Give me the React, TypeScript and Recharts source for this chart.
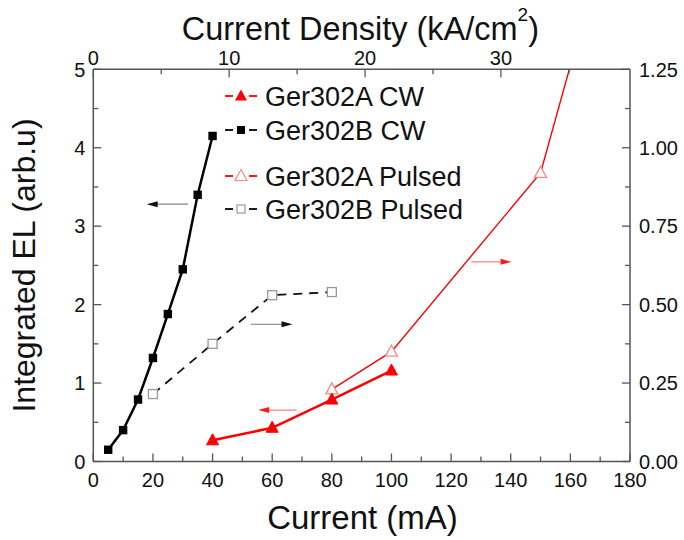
import React from 'react'
import { LineChart, Line, XAxis, YAxis, ReferenceLine } from 'recharts'

const FONT = 'Arial, "Liberation Sans", sans-serif'
const AXIS_COLOR = '#555'

// Ger302B CW - left axis
const currentB_CW = [5, 10, 15, 20, 25, 30, 35, 40]
const elB_CW = [0.15, 0.4, 0.79, 1.32, 1.88, 2.45, 3.4, 4.15]
// Ger302A CW - left axis
const currentA_CW = [40, 60, 80, 100]
const elA_CW = [0.27, 0.43, 0.79, 1.16]
// Ger302A Pulsed - right axis (last point runs off the top)
const currentA_P = [80, 100, 150, 200]
const elA_P = [0.23, 0.35, 0.92, 2.63]
// Ger302B Pulsed - right axis
const currentB_P = [20, 40, 60, 80]
const elB_P = [0.215, 0.375, 0.53, 0.54]

const currentTicks = [0, 10, 20, 30, 40, 50, 60, 70, 80, 90, 100, 110, 120, 130, 140, 150, 160, 170, 180]
const densityTicks = [0, 5, 10, 15, 20, 25, 30, 35]
const leftTicks = [0, 0.5, 1, 1.5, 2, 2.5, 3, 3.5, 4, 4.5, 5]
const rightTicks = [0, 0.125, 0.25, 0.375, 0.5, 0.625, 0.75, 0.875, 1, 1.125, 1.25]

// arrows pointing to the axis each curve belongs to: [fromX, toX, y] on left axis
const arrows = [
  { from: 31.8, to: 17.9, y: 3.28, line: '#888', head: '#111' },
  { from: 52.8, to: 66.8, y: 1.75, line: '#777', head: '#111' },
  { from: 68.2, to: 55.3, y: 0.656, line: '#ff8080', head: '#ff1a1a' },
  { from: 126.8, to: 140.3, y: 2.545, line: '#ff8080', head: '#ff1a1a' },
]

const zip = (xs: number[], ys: number[]) => xs.map((x, i) => ({ x, y: ys[i] }))

const dataB_CW = zip(currentB_CW, elB_CW)
const dataA_CW = zip(currentA_CW, elA_CW)
const dataA_P = zip(currentA_P, elA_P)
const dataB_P = zip(currentB_P, elB_P)

const isMult = (v: number, step: number) => Math.abs(v / step - Math.round(v / step)) < 1e-6

function makeTick(side: 'bottom' | 'top' | 'left' | 'right', step: number, fmt: (v: number) => string) {
  return (props: any) => {
    const { x, y, payload } = props
    const v = payload.value
    const major = isMult(v, step)
    const len = major ? 8 : 5
    let line = null
    let label = null
    const common = { fill: '#111', fontSize: 20, fontFamily: FONT }
    if (side === 'bottom') {
      line = <line x1={x} y1={y} x2={x} y2={y - len} stroke={AXIS_COLOR} strokeWidth={1.3} />
      if (major) label = <text x={x} y={y + 25.5} textAnchor="middle" {...common}>{fmt(v)}</text>
    } else if (side === 'top') {
      line = <line x1={x} y1={y} x2={x} y2={y + len} stroke={AXIS_COLOR} strokeWidth={1.3} />
      if (major) label = <text x={x} y={y - 4} textAnchor="middle" {...common}>{fmt(v)}</text>
    } else if (side === 'left') {
      line = <line x1={x} y1={y} x2={x + len} y2={y} stroke={AXIS_COLOR} strokeWidth={1.3} />
      if (major) label = <text x={x - 8} y={y} dy="0.36em" textAnchor="end" {...common}>{fmt(v)}</text>
    } else {
      line = <line x1={x} y1={y} x2={x - len} y2={y} stroke={AXIS_COLOR} strokeWidth={1.3} />
      if (major) label = <text x={x + 9} y={y} dy="0.36em" textAnchor="start" {...common}>{fmt(v)}</text>
    }
    return (
      <g>
        {line}
        {label}
      </g>
    )
  }
}

function triangle(cx: number, cy: number) {
  return `${cx},${cy - 6.5} ${cx - 6},${cy + 4.5} ${cx + 6},${cy + 4.5}`
}

const FilledTriangle = (props: any) => {
  const { cx, cy, index } = props
  if (cx == null || cy == null) return <g key={index} />
  return <polygon key={index} points={triangle(cx, cy)} fill="#ff0000" stroke="#ff0000" strokeWidth={1} />
}

const OpenTriangle = (props: any) => {
  const { cx, cy, index } = props
  if (cx == null || cy == null) return <g key={index} />
  return <polygon key={index} points={triangle(cx, cy)} fill="#fff" stroke="#f28b8b" strokeWidth={1.3} />
}

const FilledSquare = (props: any) => {
  const { cx, cy, index } = props
  if (cx == null || cy == null) return <g key={index} />
  return <rect key={index} x={cx - 4.2} y={cy - 4.2} width={8.4} height={8.4} fill="#000" />
}

const OpenSquare = (props: any) => {
  const { cx, cy, index } = props
  if (cx == null || cy == null) return <g key={index} />
  return <rect key={index} x={cx - 4.5} y={cy - 4.5} width={9} height={9} fill="#fff" stroke="#999" strokeWidth={1.3} />
}

const arrowShape = (color: string, head: string) => (props: any) => {
  const { x1, y1, x2, y2 } = props
  const dir = x2 > x1 ? 1 : -1
  return (
    <g>
      <line x1={x1} y1={y1} x2={x2 - dir * 6} y2={y2} stroke={color} strokeWidth={1.2} />
      <polygon points={`${x2},${y2} ${x2 - dir * 11},${y2 - 3} ${x2 - dir * 11},${y2 + 3}`} fill={head} />
    </g>
  )
}

const legendRows = [
  { name: 'Ger302A CW', color: '#ff0000', marker: 'triFilled', cy: 96 },
  { name: 'Ger302B CW', color: '#000', marker: 'sqFilled', cy: 130 },
  { name: 'Ger302A Pulsed', color: '#ff0000', marker: 'triOpen', cy: 176 },
  { name: 'Ger302B Pulsed', color: '#000', marker: 'sqOpen', cy: 209 },
]

function Decorations() {
  return (
    <g>
      {legendRows.map((r) => (
        <g key={r.name}>
          <line x1={225} y1={r.cy} x2={233} y2={r.cy} stroke={r.color} strokeWidth={1.8} />
          <line x1={249} y1={r.cy} x2={257} y2={r.cy} stroke={r.color} strokeWidth={1.8} />
          {r.marker === 'triFilled' && <polygon points={triangle(241, r.cy)} fill="#ff0000" />}
          {r.marker === 'triOpen' && <polygon points={triangle(241, r.cy)} fill="#fff" stroke="#f28b8b" strokeWidth={1.2} />}
          {r.marker === 'sqFilled' && <rect x={237} y={r.cy - 4} width={8} height={8} fill="#000" />}
          {r.marker === 'sqOpen' && <rect x={237} y={r.cy - 4} width={8} height={8} fill="#fff" stroke="#999" strokeWidth={1.2} />}
          <text x={265} y={r.cy + 9.5} fontSize={27} fontFamily={FONT} fill="#111">{r.name}</text>
        </g>
      ))}
      <text x={362.5} y={529} textAnchor="middle" fontSize={33} fontFamily={FONT} fill="#111">Current (mA)</text>
      <text transform="rotate(-90)" x={-265.5} y={35} textAnchor="middle" fontSize={32} fontFamily={FONT} fill="#111">
        Integrated EL (arb.u)
      </text>
      <text x={181.7} y={40} fontSize={32.5} fontFamily={FONT} fill="#111">
        Current Density (kA/cm<tspan dy={-19} fontSize={19}>2</tspan><tspan dy={19}>)</tspan>
      </text>
    </g>
  )
}

export default function App() {
  return (
    <div style={{ position: 'absolute', left: 0, top: 0, width: 684, height: 540, background: '#fff' }}>
      <LineChart width={684} height={540} margin={{ top: 0, right: 0, bottom: 0, left: 0 }}>
        <XAxis
          xAxisId="bottom"
          dataKey="x"
          type="number"
          orientation="bottom"
          domain={[0, 180]}
          allowDataOverflow
          ticks={currentTicks}
          interval={0}
          height={78.5}
          tickSize={0}
          tickMargin={0}
          tickLine={false}
          axisLine={{ stroke: AXIS_COLOR, strokeWidth: 1.5 }}
          tick={makeTick('bottom', 20, (v) => String(v))}
        />
        <XAxis
          xAxisId="top"
          dataKey="x"
          type="number"
          orientation="top"
          domain={[0, 39.5]}
          allowDataOverflow
          ticks={densityTicks}
          interval={0}
          height={69.3}
          tickSize={0}
          tickMargin={0}
          tickLine={false}
          axisLine={{ stroke: AXIS_COLOR, strokeWidth: 1.5 }}
          tick={makeTick('top', 10, (v) => String(v))}
        />
        <YAxis
          yAxisId="left"
          type="number"
          orientation="left"
          domain={[0, 5]}
          allowDataOverflow
          ticks={leftTicks}
          interval={0}
          width={93.3}
          tickSize={0}
          tickMargin={0}
          tickLine={false}
          axisLine={{ stroke: AXIS_COLOR, strokeWidth: 1.5 }}
          tick={makeTick('left', 1, (v) => String(v))}
        />
        <YAxis
          yAxisId="right"
          type="number"
          orientation="right"
          domain={[0, 1.25]}
          allowDataOverflow
          ticks={rightTicks}
          interval={0}
          width={54}
          tickSize={0}
          tickMargin={0}
          tickLine={false}
          axisLine={{ stroke: AXIS_COLOR, strokeWidth: 1.5 }}
          tick={makeTick('right', 0.25, (v) => v.toFixed(2))}
        />
        {arrows.map((a, i) => (
          <ReferenceLine
            key={i}
            xAxisId="bottom"
            yAxisId="left"
            segment={[{ x: a.from, y: a.y }, { x: a.to, y: a.y }]}
            shape={arrowShape(a.line, a.head)}
          />
        ))}
        <Line
          data={dataB_P}
          xAxisId="bottom"
          yAxisId="right"
          dataKey="y"
          stroke="#111"
          strokeWidth={1.8}
          strokeDasharray="9 7"
          dot={OpenSquare}
          activeDot={false}
          isAnimationActive={false}
        />
        <Line
          data={dataA_P}
          xAxisId="bottom"
          yAxisId="right"
          dataKey="y"
          stroke="#ff0000"
          strokeWidth={1.4}
          dot={OpenTriangle}
          activeDot={false}
          isAnimationActive={false}
        />
        <Line
          data={dataB_CW}
          xAxisId="bottom"
          yAxisId="left"
          dataKey="y"
          stroke="#000"
          strokeWidth={2.5}
          dot={FilledSquare}
          activeDot={false}
          isAnimationActive={false}
        />
        <Line
          data={dataA_CW}
          xAxisId="bottom"
          yAxisId="left"
          dataKey="y"
          stroke="#ff0000"
          strokeWidth={2.5}
          dot={FilledTriangle}
          activeDot={false}
          isAnimationActive={false}
        />
        <Decorations />
      </LineChart>
    </div>
  )
}
